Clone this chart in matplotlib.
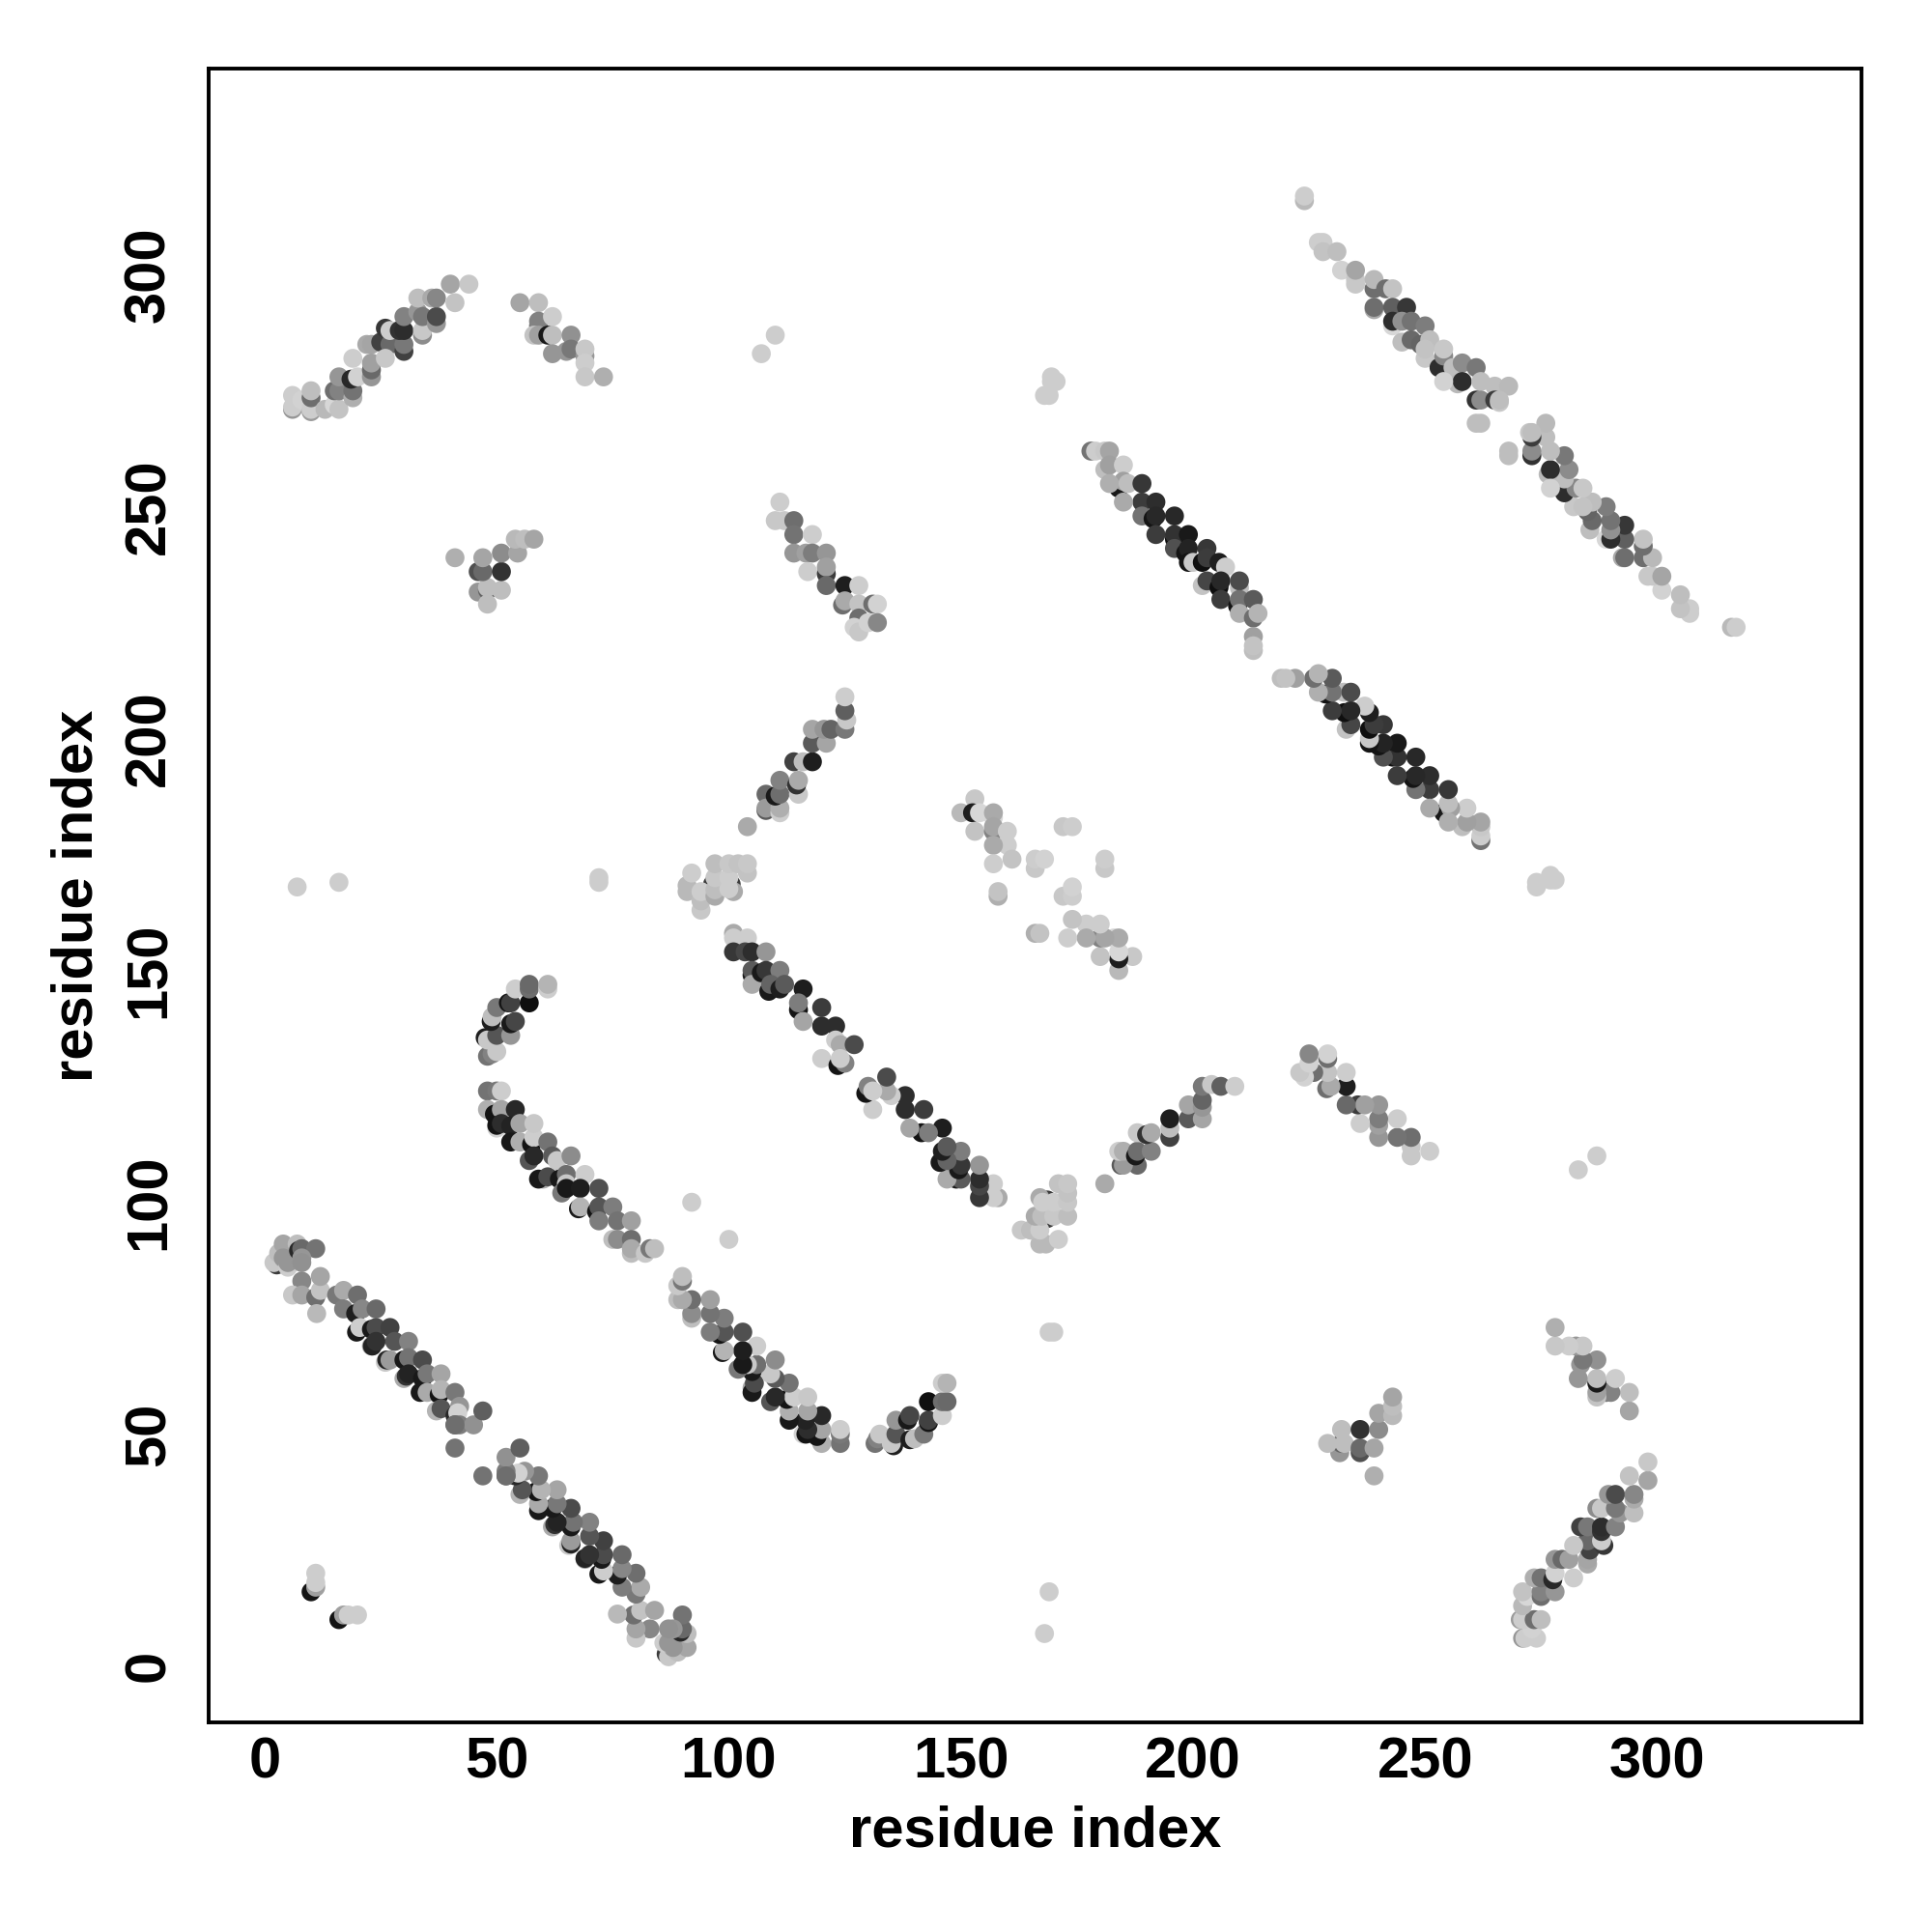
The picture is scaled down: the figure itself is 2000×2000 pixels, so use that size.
import numpy as np
import matplotlib
matplotlib.use('Agg')
import matplotlib.pyplot as plt

# contacts as (residue i, residue j, grey level 0-255), each one is drawn at (i,j) and (j,i)
# entries are in drawing order, so what peeks out underneath comes first
helix_a = [
    (2.6,86.5,60),(2,87,200),(3,89,190),(4,91,165),(4,88,150),(5,86,205),(5,87,150),
    (7,91,190),(7.3,89.6,40),(8,90,105),(11,90,115),(8,88,150),(8,87,145),(8,83,135),
    (6,80,200),(8,80,165),(11,79.5,110),(11.2,76,185),(12,81,195),(12,84,165),
    (15.5,80,120),(17,81,170),(20,80,110),(17,77,125),(19.6,76,30),(21,77,135),(24,77,105),
    (19.8,72,25),(20.5,73,205),(23,72.6,25),(24,73,75),(27,73,65),
    (23,69,170),(23.2,69,35),(24,70,50),(28,70,85),(31,70,130),
    (26,65.5,200),(26.3,66,35),(27,66,155),(30,66,25),(31,66.5,115),(34,66,75),
    (30,62,170),(30.5,62.5,50),(31,63,35),(34,62,25),(35,63,120),(38,63,165),
    (33.5,59,25),(35,59,170),(37.6,58.5,20),(38,59.6,180),(41,59,120),
    (37,55,180),(38,55.5,85),(41,54,40),(42,56,150),(41.6,54.6,210),
    (41,52,100),(42,52,125),(45,52,145),(47,55,95),(41,47,115),(41,52,110),
]
helix_b = [
    (48,131.5,115),(49,132,130),(50,132.5,200),(47.5,135.5,30),(48,135,200),(50,136,85),
    (53,136,150),(48.8,139,30),(49,140,190),(50,142,120),(53,138.5,25),(54,139,70),
    (52.5,143,20),(53,143,65),(54,146,205),(57,143,15),(57,146,110),(57,147,105),
    (61,146,205),(61,147,180),
]
helix_c = [
    (48,124,115),(50,124,120),(51,124,205),(48,120,175),(49.5,119,20),(51,120,165),
    (54,120,40),(50,116,210),(50,116.6,20),(51,117,45),(53,116.5,35),(55,117,165),
    (53,113,25),(55,113,175),(57.5,112.5,20),(58,114,205),(58,117,200),(61,113,115),
    (57,109,85),(58,110,40),(60,105,170),(59,105,25),(61,105.5,75),(62,110,90),
    (63,109,200),(66,110,140),(63.5,105,25),(65,106,110),(65,104,200),(69,106,205),
    (64,102,120),(65,103,25),(68,103,30),(72,103,80),(67.6,98.6,25),(68,99,180),
    (71.5,98,20),(72,99,85),(75,99,125),(72,96,125),(76,96,115),(79,96,160),
    (75,92,190),(76,92,140),(79,92,110),(79,89,190),(79,90,170),(82,89,200),
    (83,90,120),(84,90,190),
]
strand_d = [
    (101,158,170),(101,157,205),(104,157,205),(101,154,55),(103.5,154,70),(105,154,45),
    (108,154,150),(105,149,25),(105,150,90),(105,147,170),(107,149.5,25),(108,150,55),
    (111,150,125),(108.6,145.5,25),(109,147,100),(111,146,30),(112,147,90),(116,146,30),
    (115,141.5,20),(115,143,125),(120,142,60),(116,139,165),(120,138,45),(123,138,45),
    (123,135,205),(124,134,170),(127,134,75),(120,131,205),(123.5,129.5,20),(125,130,130),
    (124,131,205),
]
strand_e = [
    (178,262,115),(179,262,205),(181,262,200),(182,262,165),(181,258,190),(182,259,160),
    (185,259,205),(184,254,25),(185,255.5,160),(182,255,175),(186,255,190),(189,255,55),
    (189,251,60),(185,251,170),(192,251,45),(189,248,115),(191.4,247.4,20),(192,248,40),
    (196,248,40),(192,244,60),(196,243,15),(196,244,50),(199,244,25),(196,241,80),
    (198.4,240,20),(199,241,35),(203,241,55),(199,238,20),(200,238,200),(202,238,15),
    (203,239,60),(205.6,238,30),(207,237,205),(202,233,195),(203,234,70),(205.6,232.6,15),
    (206,234,40),(210,232.5,190),(210,234,75),(206,230,60),(209.6,228.6,20),(210,230,115),
    (213,230,90),(210,227,175),(213,226,110),(214,227,180),(213,222,160),(213,219,190),
    (213,220,195),
]
strand_f = [
    (224,316,185),(224,317,205),(227,307,205),(228,307,205),(228,305,195),(231,305,190),
    (232,301,210),(235,298,200),(235,299,200),(235,301,165),(239,297,110),(239,299,185),
    (241.5,297,110),(243,297,195),(239,292.5,170),(239,293,110),(243,293,95),(246,293,55),
    (243,289,215),(243,290,45),(245,290,145),(247,290,115),(250,289,125),(245,285.5,190),
    (247,286,105),(249,285,100),(251,286,190),(250,282,200),(250,284,195),(253,280,45),
    (254,282.5,135),(254,284,200),(256,280,190),(258,281,140),(261,280,120),(257,276.5,185),
    (258,277,45),(254,277,210),(262,277,190),(265,276,190),(268,276,185),(261,273,50),
    (262,273,140),(265,273,60),(266,272.5,200),(266,273,190),(261,268,190),(262,268,190),
]
helix_g = [
    (6,271,150),(6,271.5,205),(6,274,205),(8,273,210),(10,270.5,155),(10,271,205),
    (10,273.5,110),(10,275,190),(13,271,185),(15,272,215),(16,271,195),(15,275,110),
    (16,275,130),(19,273.5,175),(19,275,115),(16,278,150),(18.6,277.5,40),(20,278,210),
    (23,278,150),(19,282,205),(23,279.5,105),(23,281,160),(22,285,170),(23,285,165),
    (25,285.5,65),(27,285,105),(26,282,200),(30,283.5,65),(30,285,120),(26,288.5,55),
    (27,288,205),(29,288,50),(30,288,45),(30,291,130),(34,287,140),(34,288,200),
    (33,292,150),(34,291,120),(37,289.5,150),(37,291,75),(33,295,190),(36,295,170),
    (37,295,135),(40,298,165),(44,298,200),(41,294,195),
]
strand_h = [
    (55,294,165),(59,294,190),(59,289,115),(59,290,130),(62,291,205),(58,287,195),
    (59,287,160),(61,287,25),(62,287,190),(66,287,145),(62,283,150),(65,283.5,150),
    (66,284,120),(69,282.5,150),(69,284,200),(69,281,205),(69,278,200),(73,278,175),
]
strand_k = [
    (111,251,205),(110,247,200),(112,247,200),(114,247,110),(114,244,115),(118,244,205),
    (114,240,150),(116.6,240,160),(118,240,125),(121,240,150),(117,236,205),(121,235.5,60),
    (121,237,160),(121,233,105),(125,233,30),(128,233,205),(124.5,228.8,110),(125,229.7,170),
    (128,229,195),(131,229,110),(132,229,210),(128,226,110),(127,224,210),(128,223,200),
    (130,225,210),(132,225,135),
]
strand_m = [
    (104,181,170),(108,188,105),(108,184.5,90),(108,185,155),(111,184,205),(111,185,175),
    (110,187.6,25),(111,188,110),(111,191,130),(115,188,200),(114.6,190,50),(115,191,170),
    (114,195,65),(116,195,190),(118,195,30),(118,199,90),(121,199,165),(118,202,165),
    (120.5,202,150),(122,202,100),(125,202,120),(125.4,204,200),(125,206,95),(125,209,205),
]
patch_n = [
    (46,231.6,150),(48,232,100),(48,232.6,190),(48,229,190),(51,232,190),(46,236,80),
    (47,236,105),(47,239,165),(51,236,50),(51,240,140),(54.5,240,165),(54,243,185),
    (56,243,190),(58,243,165),(41,239,175),
]
patch_p = [
    (96.5,168.6,60),(100.5,168.6,60),(101,167,170),
    (91,167,185),(91,168.3,185),(92,171,205),(94,163,200),(94,165,190),(94,167,205),
    (97,166,170),(97,167.4,190),(97,170,200),(97,173,190),(100,167.6,205),
    (100,170,205),(100,173,200),(102,173,195),(104,171,195),(104,173,200),
]
patch_s = [
    (153,187,200),(150,184,185),(152.5,184,30),(154,184,215),(157,183,215),(157,184,170),
    (153,180,195),(157,180,130),(157,181,165),(160,180,205),(160,177,205),(157,177,170),
    (157,173,205),(161,174,195),(158,166,175),(158,167,195),(166,172,200),(166,174,205),
    (168,174,210),(172,181,200),(174,181,205),
]
stray_contacts = [
    (10,16,20),(11,17,160),(11,18,205),(11,20,205),(7,168,205),(16,169,205),(72,169,205),
    (72,170,205),(107,283,205),(110,287,205),(92,100,205),(168,274,205),(169,274,205),
    (170.5,277,205),(169.5,277,205),(169.5,278,205),
]

tick_values = [0, 50, 100, 150, 200, 250, 300]
axis_label = 'residue index'

all_contacts = [helix_a, helix_b, helix_c, strand_d, strand_e, strand_f, helix_g, strand_h,
                strand_k, strand_m, patch_n, patch_p, patch_s, stray_contacts]

plt.rcParams['font.family'] = ['Liberation Sans', 'DejaVu Sans']
plt.rcParams['font.weight'] = 'bold'

fig = plt.figure(figsize=(20, 20), dpi=100)
ax = fig.add_axes([0.1078, 0.1084, 0.8558, 0.8559])

for contacts in all_contacts:
    c = np.array(contacts)
    for xs, ys in ((c[:, 0], c[:, 1]), (c[:, 1], c[:, 0])):
        ax.scatter(xs, ys, c=c[:, 2], cmap='gray', vmin=0, vmax=255, s=200, linewidths=0)

ax.set_xlim(-12.15, 344.05)
ax.set_ylim(-12.2, 344.4)
ax.set_xticks(tick_values)
ax.set_yticks(tick_values)
ax.tick_params(axis='x', length=0, labelsize=43, pad=10)
ax.tick_params(axis='y', length=0, labelsize=43, pad=24)
for lab in ax.get_yticklabels():
    lab.set_rotation(90)
    lab.set_va('center')
ax.set_xlabel(axis_label, fontsize=43, fontweight='bold', labelpad=12)
ax.set_ylabel(axis_label, fontsize=43, fontweight='bold', labelpad=14)
for s in ax.spines.values():
    s.set_linewidth(2.8)

fig.savefig('out.png', dpi=100)
